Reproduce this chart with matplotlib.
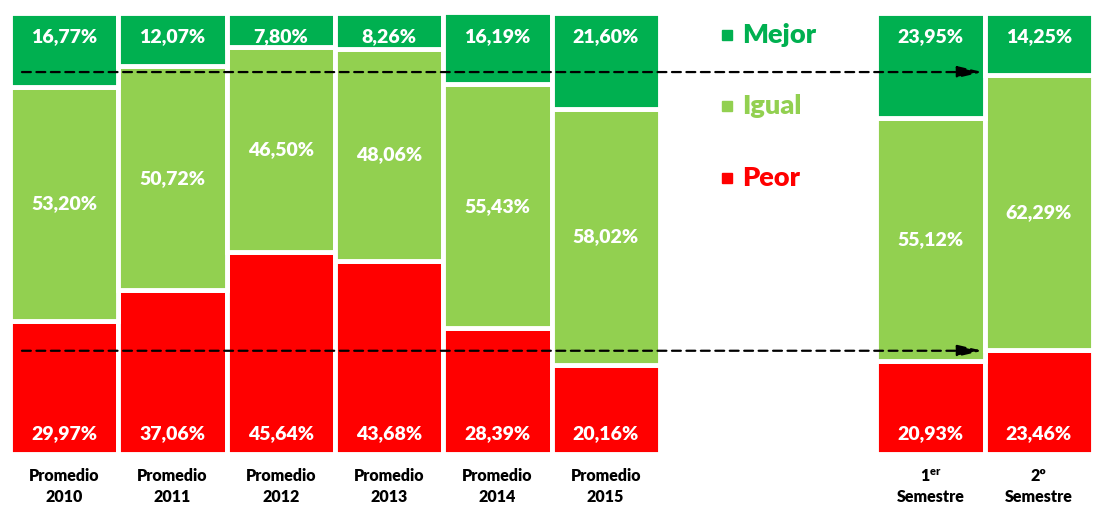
import numpy as np
import matplotlib.pyplot as plt

plt.rcParams['font.family'] = ['Lato', 'DejaVu Sans']
plt.rcParams['mathtext.fontset'] = 'custom'
plt.rcParams['mathtext.rm'] = 'Lato:heavy'
plt.rcParams['mathtext.bf'] = 'Lato:heavy'

# categories (slots 6 and 7 are left empty for the legend)
categories = ["Promedio\n2010", "Promedio\n2011", "Promedio\n2012", "Promedio\n2013",
              "Promedio\n2014", "Promedio\n2015", "", "",
              r"$\mathbf{1^{er}}$" + "\nSemestre", "2º\nSemestre"]
mejor = [16.77, 12.07, 7.80, 8.26, 16.19, 21.60, 0, 0, 23.95, 14.25]
igual = [53.20, 50.72, 46.50, 48.06, 55.43, 58.02, 0, 0, 55.12, 62.29]
peor = [29.97, 37.06, 45.64, 43.68, 28.39, 20.16, 0, 0, 20.93, 23.46]

c_mejor = '#00B050'
c_igual = '#92D050'
c_peor = '#FF0000'


def fmt(v):
    return ("%.2f%%" % v).replace('.', ',')


def main():
    fig = plt.figure(figsize=(10.93, 5.07), dpi=100)
    ax = fig.add_axes([0.0092, 0.1055, 0.9908, 0.8698])

    x = np.arange(len(categories))
    pe = np.array(peor)
    ig = np.array(igual)
    me = np.array(mejor)
    used = [i for i in x if pe[i] + ig[i] + me[i] > 0]

    kw = dict(width=1.0, edgecolor='white', linewidth=3.5)
    ax.bar(x[used], pe[used], color=c_peor, **kw)
    ax.bar(x[used], ig[used], bottom=pe[used], color=c_igual, **kw)
    ax.bar(x[used], me[used], bottom=(pe + ig)[used], color=c_mejor, **kw)

    for i in used:
        tk = dict(ha='center', va='center', color='white', fontsize=14, fontweight='heavy')
        ax.text(i, 94.6, fmt(me[i]), **tk)
        ax.text(i, pe[i] + ig[i] / 2, fmt(ig[i]), **tk)
        ax.text(i, 4.6, fmt(pe[i]), **tk)
        ax.text(i, -7.5, categories[i], ha='center', va='center', fontsize=11.5,
                fontweight='heavy', linespacing=1.35)

    # dashed arrows
    for yy in (86.5, 23.3):
        ax.annotate('', xy=(8.48, yy), xytext=(-0.39, yy),
                    arrowprops=dict(arrowstyle='-|>,head_length=1.5,head_width=0.35',
                                    linestyle=(0, (4, 2.5)), color='black', lw=1.6,
                                    shrinkA=0, shrinkB=0))

    # legend
    for yy, lab, c in ((95.0, 'Mejor', c_mejor), (78.8, 'Igual', c_igual), (62.4, 'Peor', c_peor)):
        ax.plot([6.12], [yy], marker='s', markersize=7.5, color=c, linestyle='none')
        ax.text(6.26, yy, lab, color=c, fontsize=19.5, fontweight='heavy', ha='left', va='center')

    ax.set_xlim(-0.5, 9.5)
    ax.set_ylim(0, 100)
    ax.axis('off')

    fig.savefig('out.png', dpi=100)


if __name__ == '__main__':
    main()
